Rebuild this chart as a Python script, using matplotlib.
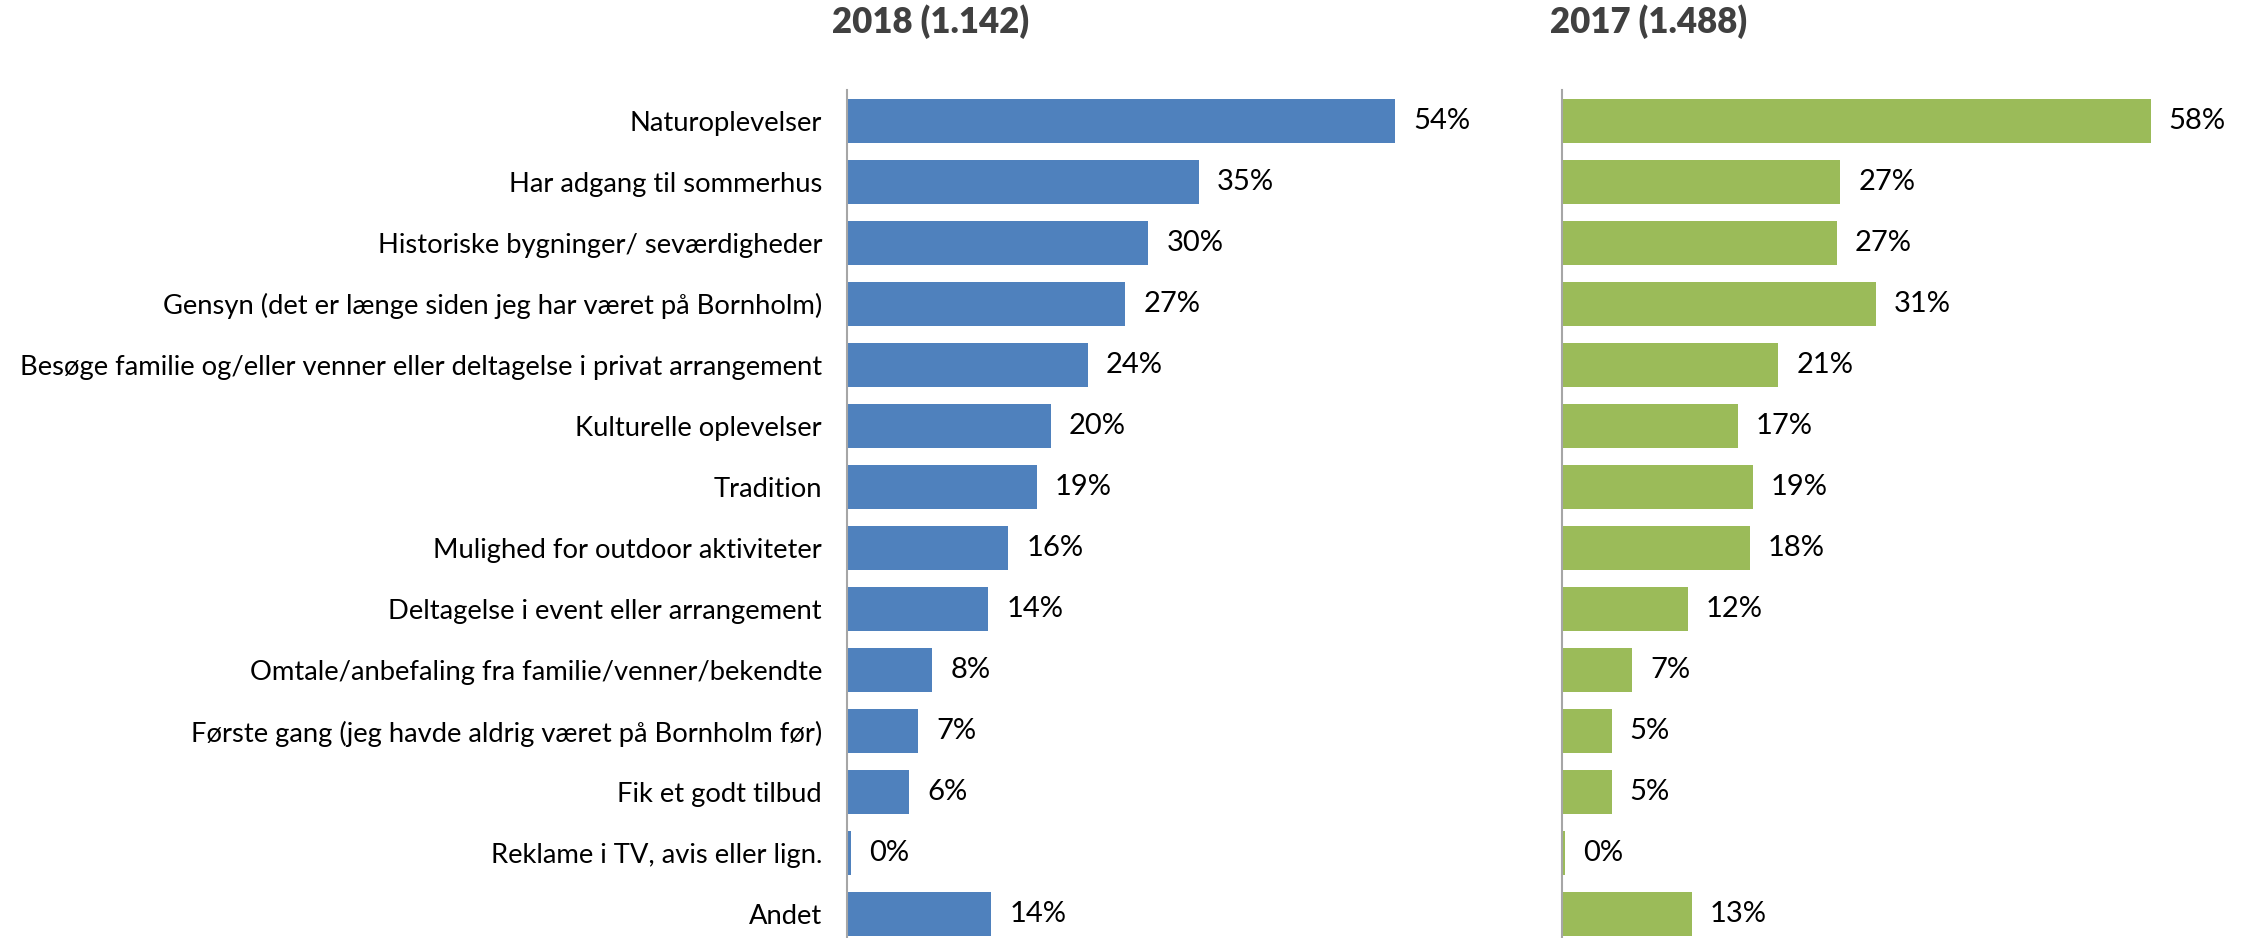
import matplotlib
matplotlib.use("Agg")
import matplotlib.pyplot as plt

# data
kategorier = [
    "Naturoplevelser",
    "Har adgang til sommerhus",
    "Historiske bygninger/ seværdigheder",
    "Gensyn (det er længe siden jeg har været på Bornholm)",
    "Besøge familie og/eller venner eller deltagelse i privat arrangement",
    "Kulturelle oplevelser",
    "Tradition",
    "Mulighed for outdoor aktiviteter",
    "Deltagelse i event eller arrangement",
    "Omtale/anbefaling fra familie/venner/bekendte",
    "Første gang (jeg havde aldrig været på Bornholm før)",
    "Fik et godt tilbud",
    "Reklame i TV, avis eller lign.",
    "Andet",
]
vaerdi_2018 = [54.0, 34.7, 29.7, 27.4, 23.7, 20.1, 18.7, 15.9, 13.9, 8.4, 7.0, 6.1, 0.4, 14.2]
vaerdi_2017 = [58.0, 27.4, 27.1, 30.9, 21.3, 17.3, 18.8, 18.5, 12.4, 6.9, 4.9, 4.9, 0.3, 12.8]
etiket_2018 = ["54%", "35%", "30%", "27%", "24%", "20%", "19%", "16%", "14%", "8%", "7%", "6%", "0%", "14%"]
etiket_2017 = ["58%", "27%", "27%", "31%", "21%", "17%", "19%", "18%", "12%", "7%", "5%", "5%", "0%", "13%"]
titler = ["2018 (1.142)", "2017 (1.488)"]

plt.rcParams['font.family'] = ['Lato', 'DejaVu Sans']

W, H = 2249, 938
fig = plt.figure(figsize=(W / 100, H / 100), dpi=100)

def lav_panel(x0, vaerdier, etiketter, farve, vis_kategorier):
    ax = fig.add_axes([x0 / W, -7 / H, 609 / W, 855 / H])
    y = list(range(len(vaerdier)))
    ax.barh(y, vaerdier, height=0.72, color=farve)
    ax.set_xlim(0, 60)
    ax.set_ylim(13.5, -0.5)
    for s in ["top", "right", "bottom"]:
        ax.spines[s].set_visible(False)
    ax.spines["left"].set_color("#A6A6A6")
    ax.spines["left"].set_linewidth(1.5)
    ax.set_xticks([])
    ax.tick_params(axis="y", length=0, pad=18)
    if vis_kategorier:
        ax.set_yticks(y)
        ax.set_yticklabels(kategorier, fontsize=19.7, color="black")
    else:
        ax.set_yticks([])
    for yi, v, t in zip(y, vaerdier, etiketter):
        ax.annotate(t, (v, yi), xytext=(13, 0), textcoords="offset points",
                    va="center", ha="left", fontsize=21, color="black")
    return ax

ax1 = lav_panel(847, vaerdi_2018, etiket_2018, "#4F81BD", True)
ax2 = lav_panel(1562, vaerdi_2017, etiket_2017, "#9BBB59", False)

# titler over hvert panel
fig.text(931 / W, 1 - 22 / H, titler[0], ha="center", va="center", fontsize=25,
         fontweight="heavy", color="#404040")
fig.text(1649 / W, 1 - 22 / H, titler[1], ha="center", va="center", fontsize=25,
         fontweight="heavy", color="#404040")

fig.savefig("out.png", dpi=100)
